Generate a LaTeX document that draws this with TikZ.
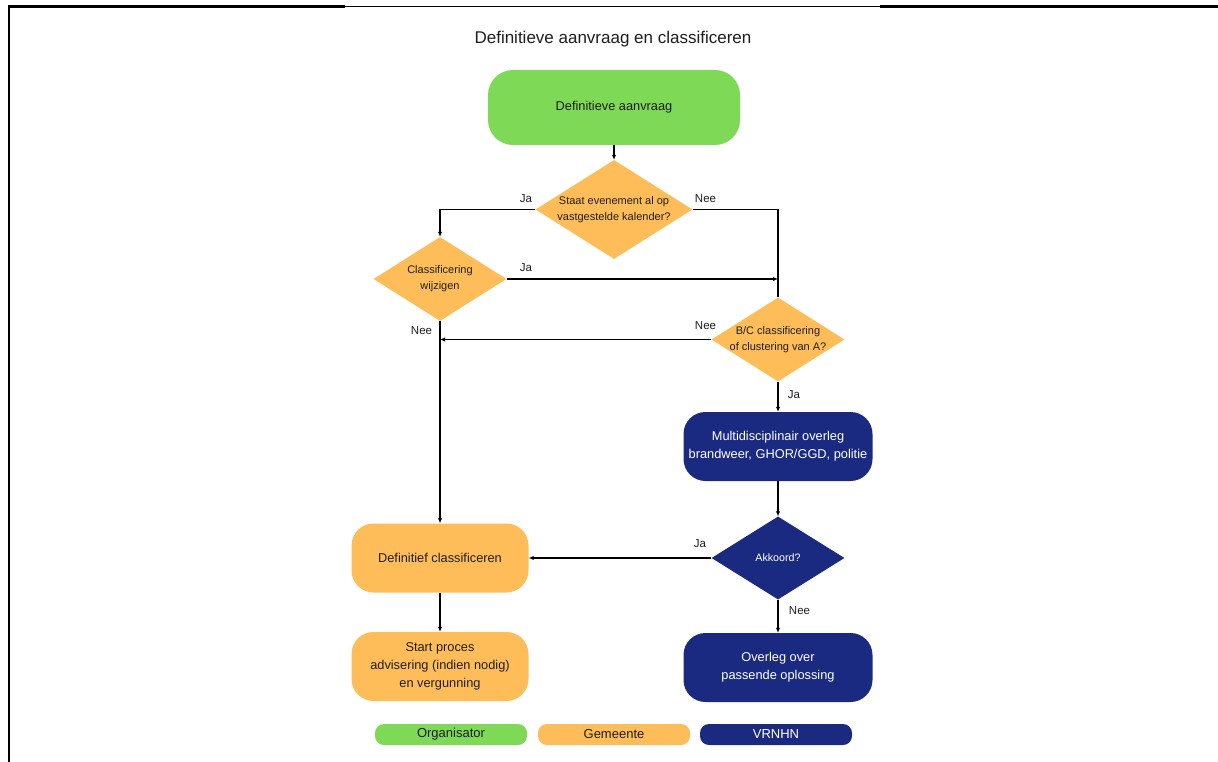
\documentclass[tikz,border=0pt]{standalone}
\usepackage{fontspec}
\setmainfont{Liberation Sans}
\usetikzlibrary{shapes.geometric,arrows.meta}
\definecolor{cgreen}{HTML}{7ED957}
\definecolor{corange}{HTML}{FFBD59}
\definecolor{cnavy}{HTML}{1A2A80}
\definecolor{ctext}{HTML}{1E1E1E}
\tikzset{
  box/.style={rectangle, rounded corners=22pt, minimum width=177pt, minimum height=69pt, inner sep=0pt, align=center, font=\fontsize{12.8}{18}\selectfont, text=ctext},
  gbox/.style={box, fill=cgreen},
  obox/.style={box, fill=corange},
  nbox/.style={box, fill=cnavy, text=white, minimum width=189pt},
  dia/.style={diamond, inner sep=0pt, minimum width=133pt, minimum height=84pt},
  odia/.style={dia, fill=corange},
  ndia/.style={dia, fill=cnavy},
  dtext/.style={align=center, font=\fontsize{11}{16}\selectfont, text=ctext},
  lbl/.style={font=\fontsize{11.5}{14}\selectfont, text=ctext},
  conn/.style={line width=1.5pt, draw=black},
  arr/.style={conn, -{Latex[length=5pt,width=4.5pt]}},
  pill/.style={rectangle, rounded corners=9pt, minimum width=152pt, minimum height=21pt, inner sep=0pt, font=\fontsize{13}{15}\selectfont, text=ctext},
}
\begin{document}
\begin{tikzpicture}[x=1pt,y=-1pt]
\useasboundingbox[fill=white] (0,0) rectangle (1218,762);
% frame
\draw[line width=2.2pt] (9,762) -- (9,6.5) -- (345,6.5);
\draw[line width=1pt] (345,6.5) -- (880,6.5);
\draw[line width=2.2pt] (880,6.5) -- (1218,6.5);

\node[font=\fontsize{17}{20}\selectfont, text=ctext] (title) at (613,39) {Definitieve aanvraag en classificeren};

\node[gbox, minimum width=252pt, minimum height=75pt, rounded corners=25pt] (g1) at (614,107.5) {Definitieve aanvraag};

\node[odia, minimum width=157pt, minimum height=99pt] (d1) at (614,209.5) {};
\node[dtext] (d1t) at (d1) {Staat evenement al op\\vastgestelde kalender?};

\node[odia] (d2) at (440,279) {};
\node[dtext] (d2t) at (d2) {Classificering\\wijzigen};

\node[odia] (d3) at (778,339.5) {};
\node[dtext] (d3t) at (d3) {B/C classificering\\of clustering van A?};

\node[nbox] (m1) at (778,446.5) {Multidisciplinair overleg\\brandweer, GHOR/GGD, politie};

\node[ndia, minimum height=83pt] (d4) at (778,558) {};
\node[text=white, font=\fontsize{10.7}{13}\selectfont] (d4t) at (d4) {Akkoord?};

\node[obox] (b2) at (440,558) {Definitief classificeren};
\node[obox] (b3) at (440,666.5) {Start proces\\advisering (indien nodig)\\en vergunning};
\node[nbox] (m2) at (778,667.5) {Overleg over\\passende oplossing};

% connectors
\coordinate (c1) at (d3.north |- d2.east);
\coordinate (c2) at (d2.south |- d3.west);
\draw[arr] (g1.south) -- (d1.north);
\draw[arr] (d1.west) -| (d2.north);
\draw[conn] (d1.east) -| (d3.north);
\draw[arr] (d2.east) -- (c1);
\draw[arr] (d3.west) -- (c2);
\draw[arr] (d2.south) -- (b2.north);
\draw[arr] (d3.south) -- (m1.north);
\draw[arr] (m1.south) -- (d4.north);
\draw[arr] (d4.west) -- (b2.east);
\draw[arr] (b2.south) -- (b3.north);
\draw[arr] (d4.south) -- (m2.north);

% labels
\node[lbl] (l1) at (526,199) {Ja};
\node[lbl] (l2) at (705.5,199) {Nee};
\node[lbl] (l3) at (526,268) {Ja};
\node[lbl] (l4) at (705.5,325.5) {Nee};
\node[lbl] (l5) at (421.5,331) {Nee};
\node[lbl] (l6) at (794,395) {Ja};
\node[lbl] (l7) at (700,544) {Ja};
\node[lbl] (l8) at (799.5,611) {Nee};

% legend
\node[pill, fill=cgreen] (p1) at (451,734.5) {Organisator};
\node[pill, fill=corange] (p2) at (614,734.5) {Gemeente};
\node[pill, fill=cnavy, text=white] (p3) at (776,734.5) {VRNHN};
\end{tikzpicture}
\end{document}
